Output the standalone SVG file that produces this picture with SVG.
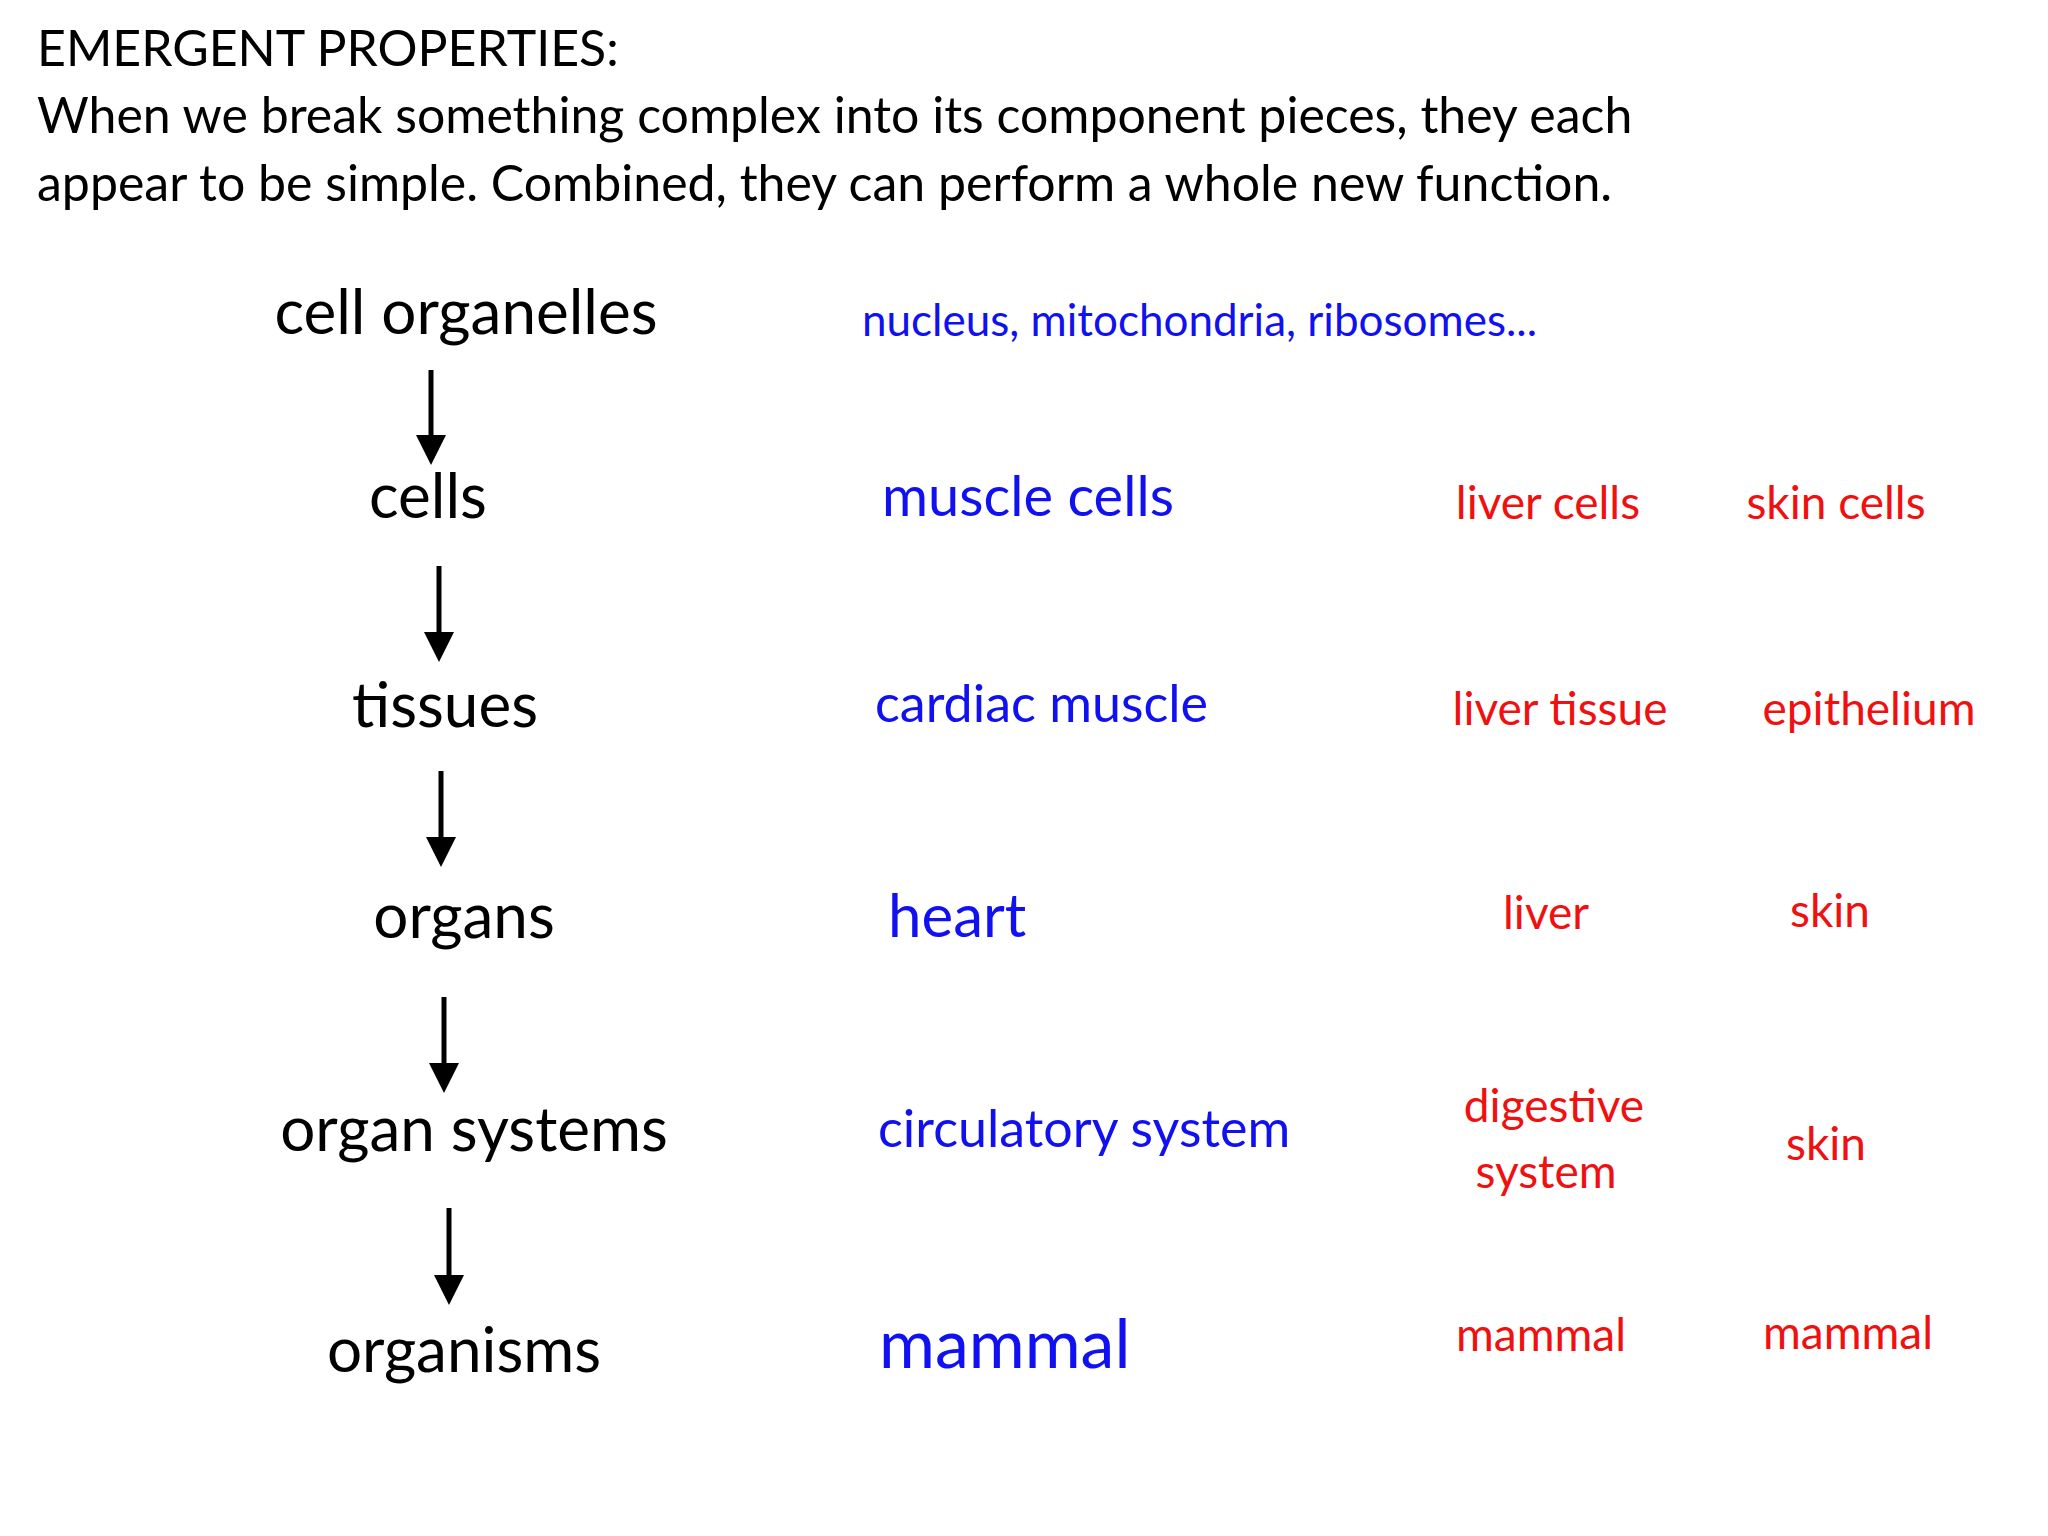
<svg xmlns="http://www.w3.org/2000/svg" width="2048" height="1536" viewBox="0 0 2048 1536">
<style>
text{font-family:Lato,"Open Sans","Liberation Sans",sans-serif}
.h{font-size:50px;fill:#000}
.l{font-size:62px;fill:#000;text-anchor:middle}
.b{fill:#1010f0}
.r{fill:#f01010;font-size:46px;text-anchor:middle}
.a{stroke:#000;stroke-width:5}
</style>
<defs><marker id="m" markerWidth="6" markerHeight="6" refX="3" refY="3" orient="auto" markerUnits="strokeWidth"><path d="M0,0L6,3L0,6z" fill="#000"/></marker></defs>
<rect width="2048" height="1536" fill="#fff"/>
<g id="title">
<text class="h" x="37" y="66">EMERGENT PROPERTIES:</text>
<text class="h" x="37" y="133">When we break something complex into its component pieces, they each</text>
<text class="h" x="37" y="201">appear to be simple. Combined, they can perform a whole new function.</text>
</g>
<g id="levels">
<text class="l" x="466" y="334">cell organelles</text>
<text class="l" x="428" y="518">cells</text>
<text class="l" x="445" y="727">tissues</text>
<text class="l" x="464" y="938">organs</text>
<text class="l" x="474" y="1151">organ systems</text>
<text class="l" x="464" y="1372">organisms</text>
</g>
<g id="connectors">
<line class="a" x1="431" y1="370" x2="431" y2="450" marker-end="url(#m)"/>
<line class="a" x1="439" y1="566" x2="439" y2="647" marker-end="url(#m)"/>
<line class="a" x1="441" y1="771" x2="441" y2="852" marker-end="url(#m)"/>
<line class="a" x1="444" y1="997" x2="444" y2="1078" marker-end="url(#m)"/>
<line class="a" x1="449" y1="1208" x2="449" y2="1290" marker-end="url(#m)"/>
</g>
<g id="blue" class="b">
<text x="862" y="336" font-size="44">nucleus, mitochondria, ribosomes...</text>
<text x="882" y="516" font-size="56">muscle cells</text>
<text x="875" y="722" font-size="52">cardiac muscle</text>
<text x="888" y="937" font-size="60">heart</text>
<text x="878" y="1147" font-size="52">circulatory system</text>
<text x="879" y="1368" font-size="68">mammal</text>
</g>
<g id="red">
<text class="r" x="1548" y="519">liver cells</text>
<text class="r" x="1836" y="519">skin cells</text>
<text class="r" x="1560" y="725">liver tissue</text>
<text class="r" x="1869" y="725">epithelium</text>
<text class="r" x="1546" y="929">liver</text>
<text class="r" x="1830" y="927">skin</text>
<text class="r" x="1554" y="1122">digestive</text>
<text class="r" x="1546" y="1188">system</text>
<text class="r" x="1826" y="1160">skin</text>
<text class="r" x="1541" y="1351" font-size="56">mammal</text>
<text class="r" x="1848" y="1349" font-size="56">mammal</text>
</g>
</svg>
